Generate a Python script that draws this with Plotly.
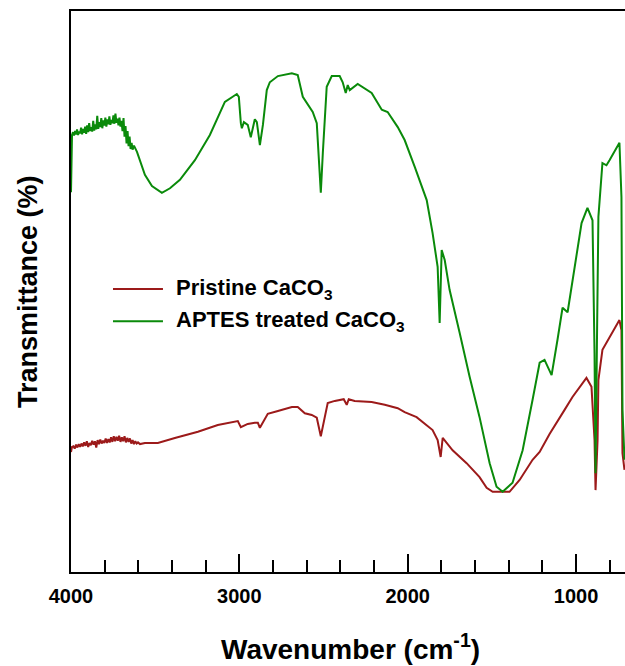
import plotly.graph_objects as go

# ---- data (wavenumber in cm-1, transmittance in arbitrary %) ----
wn_aptes = [4000, 3994,
            3988, 3982, 3976, 3970, 3964, 3958, 3952, 3946, 3940, 3934,
            3928, 3922, 3916, 3910, 3904, 3898, 3892, 3886, 3880, 3874,
            3868, 3862, 3856, 3850, 3844, 3838, 3832, 3826, 3820, 3814,
            3808, 3802, 3796, 3790, 3784, 3778, 3772, 3766, 3760, 3754,
            3748, 3742, 3736, 3730, 3724, 3718, 3712, 3706, 3700, 3694,
            3688, 3682, 3676, 3670, 3664, 3658, 3652, 3646, 3640, 3634,
            3626, 3608, 3561, 3519, 3460, 3412, 3353, 3264, 3175, 3086, 3015, 3003, 2991,
            2985, 2973, 2950, 2932, 2908, 2896, 2878, 2860, 2837, 2819, 2771, 2688, 2653, 2623, 2599,
            2564, 2540, 2528, 2516, 2504, 2481, 2451, 2404, 2386, 2368, 2356, 2344, 2297, 2214, 2154,
            2119, 2059, 2018, 1958, 1887, 1852, 1822, 1810, 1798, 1780, 1751, 1691, 1632, 1573, 1513,
            1472, 1436, 1377, 1317, 1258, 1216, 1187, 1145, 1110, 1080, 1050, 1009, 967, 932, 902,
            890, 884, 876, 867, 843, 819, 801, 742, 730, 724, 712]
t_aptes = [67.7, 77.9,
           78.4, 77.8, 78.6, 78.0, 78.9, 77.9, 78.5, 78.2, 79.2, 78.0,
           79.0, 78.3, 79.4, 78.1, 79.6, 78.4, 80.0, 78.6, 79.3, 78.5,
           80.4, 78.7, 79.8, 78.9, 81.3, 79.0, 80.2, 79.3, 80.9, 79.1,
           80.5, 79.6, 81.0, 79.4, 80.7, 79.8, 81.2, 79.7, 80.6, 80.0,
           81.4, 79.9, 81.7, 80.1, 80.8, 79.6, 81.0, 79.4, 80.4, 78.6,
           80.9, 77.6, 79.5, 76.4, 78.6, 75.9, 77.6, 75.4, 76.5, 75.3,
           76.0, 74.9, 70.8, 68.8, 67.6, 68.4, 69.9, 73.4, 77.9, 83.8, 85.2, 84.7, 80.0,
           79.1, 80.2, 79.7, 77.5, 80.7, 80.2, 76.1, 79.7, 85.9, 87.3, 88.4, 88.9, 88.6, 84.7, 83.6,
           82.0, 80.0, 74.0, 67.6, 74.7, 86.5, 88.4, 88.4, 87.3, 85.4, 86.8, 85.9, 87.0, 85.4, 82.4,
           82.0, 79.3, 77.0, 72.2, 66.3, 60.4, 54.4, 44.4, 57.4, 55.6, 50.3, 42.6, 34.8, 27.6, 19.4,
           15.2, 14.3, 15.9, 21.7, 30.7, 37.3, 37.8, 35.1, 41.4, 47.1, 46.3, 54.4, 62.2, 64.9, 62.7,
           39.0, 17.6, 40.0, 63.3, 72.9, 72.5, 73.4, 76.5, 66.8, 28.9, 20.0]

wn_pristine = [4000, 3994,
               3986, 3978, 3970, 3962, 3954, 3946, 3938, 3930, 3922, 3914,
               3906, 3898, 3890, 3882, 3874, 3866, 3858, 3850, 3842, 3834,
               3826, 3818, 3810, 3802, 3794, 3786, 3778, 3770, 3762, 3754,
               3746, 3738, 3730, 3722, 3714, 3706, 3698, 3690, 3682, 3674,
               3666, 3658, 3650, 3642, 3634, 3626, 3618, 3610, 3602,
               3590, 3561, 3484, 3383, 3246, 3128, 3044, 3009, 2991, 2950, 2908, 2890, 2878, 2860, 2831,
               2771, 2688, 2653, 2611, 2570, 2540, 2516, 2504, 2475, 2433, 2380, 2362, 2350, 2315, 2214,
               2136, 2059, 2018, 1947, 1852, 1822, 1804, 1792, 1733, 1650, 1573, 1531, 1495, 1395, 1335,
               1258, 1216, 1157, 1068, 1021, 938, 908, 890, 884, 872, 867, 843, 801, 742, 730, 724, 712]
t_pristine = [21.4, 22.3,
              22.4, 22.0, 22.7, 22.2, 22.8, 22.3, 22.9, 22.4, 23.1, 22.5,
              23.3, 22.3, 23.0, 22.6, 23.4, 22.7, 23.3, 22.2, 23.5, 22.8,
              23.6, 22.9, 23.4, 23.0, 23.8, 23.0, 23.7, 23.1, 24.0, 23.2,
              24.2, 23.3, 24.1, 23.4, 24.3, 23.2, 24.0, 23.3, 24.2, 23.1,
              23.9, 23.2, 23.8, 22.9, 23.5, 22.8, 23.3, 22.9, 23.1,
              22.8, 23.0, 23.0, 23.9, 25.0, 26.2, 26.7, 26.9, 25.8, 26.4, 26.6, 26.6, 25.7, 26.6, 28.2,
              28.7, 29.4, 29.4, 28.3, 28.0, 27.5, 24.2, 25.8, 30.1, 30.5, 30.8, 29.8, 30.8, 30.5, 30.3,
              29.8, 29.2, 28.5, 27.6, 25.3, 23.5, 20.5, 23.9, 21.7, 19.4, 16.9, 15.0, 14.3, 14.3, 16.4,
              20.0, 21.4, 24.6, 28.9, 31.2, 34.6, 33.0, 23.5, 14.6, 23.5, 34.2, 39.6, 41.9, 44.9, 43.1, 21.2, 18.2]

series_names = ["Pristine CaCO<sub>3</sub>", "APTES treated CaCO<sub>3</sub>"]
series_colors = ["#9c1a1a", "#0a8a0a"]
x_ticks = [4000, 3000, 2000, 1000]

assert len(wn_aptes) == len(t_aptes)
assert len(wn_pristine) == len(t_pristine)

FONT = "Arial, 'Liberation Sans', sans-serif"

fig = go.Figure()
fig.add_trace(go.Scatter(x=wn_pristine, y=t_pristine, mode="lines", name=series_names[0],
                         line=dict(color=series_colors[0], width=2), showlegend=False))
fig.add_trace(go.Scatter(x=wn_aptes, y=t_aptes, mode="lines", name=series_names[1],
                         line=dict(color=series_colors[1], width=2), showlegend=False))

# custom legend (lines + text)
leg_y = [0.5045, 0.447]
for name, col, yy in zip(series_names, series_colors, leg_y):
    fig.add_shape(type="line", xref="paper", yref="paper", x0=0.0758, x1=0.166, y0=yy, y1=yy,
                  line=dict(color=col, width=2))
    fig.add_annotation(xref="paper", yref="paper", x=0.186, y=yy, text=name, showarrow=False,
                       xanchor="left", yanchor="middle",
                       font=dict(family=FONT, size=22, color="black", weight="bold"))

# axis titles
fig.add_annotation(xref="paper", yref="paper", x=0.505, y=-0.133, text="Wavenumber (cm<sup>-1</sup>)",
                   showarrow=False, xanchor="center", yanchor="middle",
                   font=dict(family=FONT, size=28, color="black", weight="bold"))
fig.add_annotation(xref="paper", yref="paper", x=-0.0776, y=0.499, text="Transmittance (%)",
                   showarrow=False, xanchor="center", yanchor="middle", textangle=-90,
                   font=dict(family=FONT, size=27, color="black", weight="bold"))

fig.update_xaxes(range=[4000, 709], tickvals=x_ticks, ticktext=[str(v) for v in x_ticks],
                 ticks="inside", ticklen=18, tickwidth=2, tickcolor="black", ticklabelstandoff=5,
                 minor=dict(dtick=200, tick0=0, ticks="inside", ticklen=12, tickwidth=2, tickcolor="black"),
                 showline=True, linewidth=2, linecolor="black", mirror=True,
                 showgrid=False, zeroline=False,
                 tickfont=dict(family=FONT, size=20, color="black", weight="bold"))
fig.update_yaxes(range=[0, 100], showticklabels=False, ticks="", showgrid=False, zeroline=False,
                 showline=True, linewidth=2, linecolor="black", mirror=False)

fig.update_layout(width=625, height=666, margin=dict(l=71, r=0, t=11, b=94),
                  plot_bgcolor="white", paper_bgcolor="white", showlegend=False)

# remove the default page margin so the figure fills the window exactly
fig.write_html("out.html", config={"displayModeBar": False},
               post_script="document.body.style.margin='0';document.body.style.overflow='hidden';")
